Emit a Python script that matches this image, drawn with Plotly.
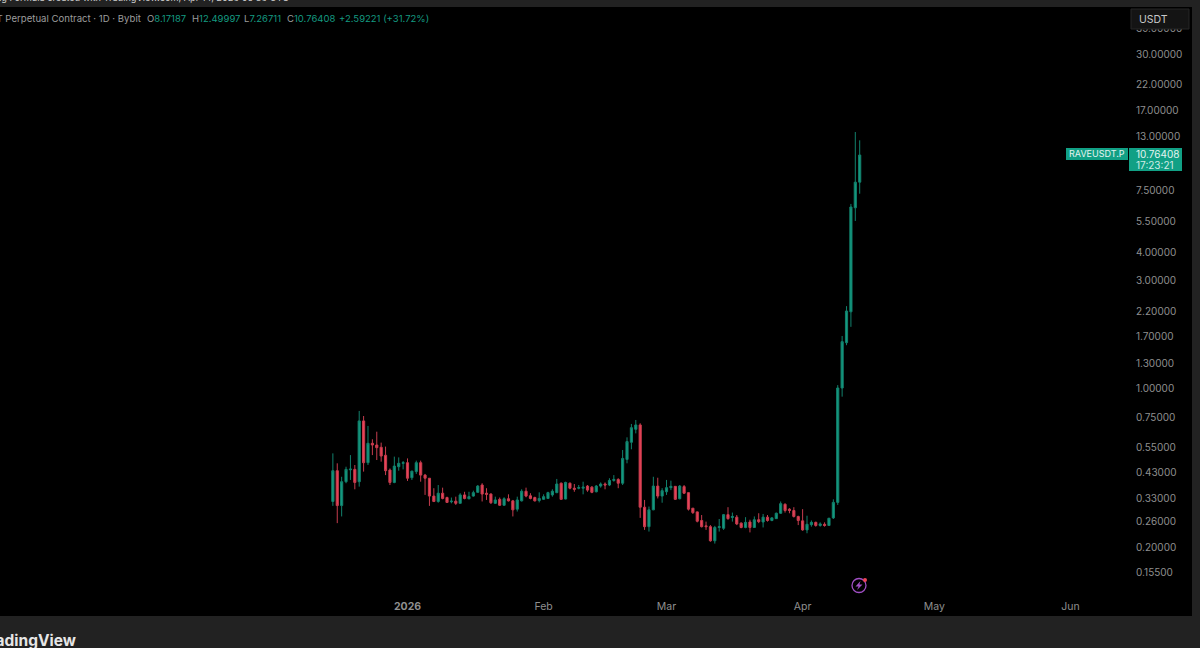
import pandas as pd
import plotly.graph_objects as go

# Daily RAVEUSDT.P candles, Dec 15 2025 to Apr 14 2026
first_day = "2025-12-15"
open_ = [.319,.436,.306,.390,.440,.442,.390,.723,.473,.576,.566,.553,.510,.439,.387,.454,.470,.473,.406,.432,
         .473,.417,.404,.337,.319,.347,.332,.318,.320,.313,.341,.328,.337,.350,.377,.347,.344,.313,.326,.307,
         .328,.321,.295,.321,.354,.338,.332,.322,.326,.329,.341,.349,.384,.327,.384,.365,.365,.365,.373,.369,
         .352,.373,.381,.377,.395,.399,.384,.489,.582,.664,.694,.301,.247,.293,.373,.337,.352,.367,.372,.328,
         .371,.349,.298,.287,.263,.249,.247,.214,.245,.243,.279,.271,.272,.256,.245,.259,.245,.265,.259,.272,
         .263,.268,.283,.310,.295,.291,.274,.262,.239,.252,.258,.250,.253,.250,.270,.316,1.01,1.60,2.19,6.3,8.17187]
high = [.520,.470,.410,.454,.511,.462,.800,.760,.687,.600,.648,.580,.557,.446,.503,.499,.481,.494,.436,.483,
        .483,.422,.404,.365,.377,.367,.335,.332,.335,.347,.352,.352,.356,.377,.384,.365,.347,.335,.332,.333,
        .343,.324,.335,.361,.367,.347,.335,.350,.343,.352,.361,.401,.387,.390,.387,.381,.377,.390,.377,.373,
        .377,.387,.387,.404,.417,.404,.538,.612,.701,.730,.706,.324,.303,.410,.406,.365,.397,.394,.373,.377,
        .377,.349,.298,.288,.278,.260,.251,.249,.267,.281,.301,.285,.278,.258,.272,.265,.274,.283,.281,.278,
        .272,.285,.319,.313,.298,.301,.276,.295,.276,.263,.260,.258,.258,.270,.326,1.04,1.713,2.32,6.55,13.6,12.49997]
low = [.305,.256,.274,.384,.397,.361,.371,.432,.462,.511,.486,.478,.417,.377,.384,.436,.442,.393,.397,.422,
       .390,.341,.305,.317,.315,.326,.315,.313,.308,.312,.326,.326,.335,.349,.319,.324,.311,.311,.305,.305,
       .319,.274,.288,.319,.333,.326,.319,.316,.324,.327,.335,.347,.325,.326,.361,.352,.361,.343,.352,.347,
       .350,.367,.361,.373,.390,.365,.377,.470,.542,.637,.270,.239,.235,.292,.329,.315,.341,.358,.324,.326,
       .344,.291,.281,.258,.245,.239,.212,.208,.235,.239,.265,.260,.251,.243,.243,.233,.244,.256,.245,.260,
       .261,.267,.281,.285,.283,.271,.251,.237,.231,.247,.247,.247,.247,.249,.267,.308,.925,1.56,1.88,5.51,7.26711]
close = [.436,.306,.390,.442,.443,.387,.723,.473,.576,.566,.551,.506,.436,.387,.457,.470,.473,.404,.434,.473,
         .417,.404,.337,.319,.347,.329,.316,.320,.313,.341,.329,.335,.349,.373,.344,.343,.315,.324,.307,.328,
         .321,.293,.324,.354,.337,.329,.321,.329,.335,.349,.354,.381,.326,.387,.365,.361,.367,.369,.358,.350,
         .373,.381,.377,.395,.399,.384,.494,.586,.675,.694,.301,.247,.293,.373,.337,.356,.367,.372,.326,.373,
         .347,.295,.285,.261,.247,.247,.214,.245,.247,.279,.268,.274,.254,.245,.258,.245,.265,.260,.272,.263,
         .270,.283,.312,.291,.291,.274,.263,.239,.253,.258,.250,.254,.250,.269,.316,1.01,1.617,2.208,6.35,8.17,10.76408]

price_ticks = [.155,.2,.26,.33,.43,.55,.75,1,1.3,1.7,2.2,3,4,5.5,7.5,13,17,22,30,39]
month_ticks = ["2026-01-01","2026-02-01","2026-03-01","2026-04-01","2026-05-01","2026-06-01"]
month_labels = ["<b>2026</b>","Feb","Mar","Apr","May","Jun"]

last_price = close[-1]
header_head = "RAVEUSDT Perpetual Contract · 1D · Bybit"
header_change = "+2.59221 (+31.72%)"
watermark_line = "Trading Formula created with TradingView.com, Apr 14, 2026 05:36 UTC"
countdown = "17:23:21"

UP, DOWN = "#149a80", "#ea4358"
UP_EDGE, DOWN_EDGE = "#12806c", "#c63c4e"
GREY, LABEL, BAR = "#9c9c9c", "#8f8f8f", "#222222"
W, H = 1200, 648
SANS = "Inter, Roboto, sans-serif"


def px(x):
    return x / W


def py(y):
    return 1 - y / H


def rect(x0, y0, x1, y1, fill, line=None):
    return dict(type="rect", xref="paper", yref="paper", layer="above",
                x0=px(x0), x1=px(x1), y0=py(y0), y1=py(y1), fillcolor=fill,
                line=dict(width=1 if line else 0, color=line or fill))


def note(x, y, text, size, color, anchor="left", family=SANS):
    return dict(xref="paper", yref="paper", x=px(x), y=py(y), text=text, showarrow=False,
                xanchor=anchor, yanchor="middle", align=anchor,
                font=dict(size=size, color=color, family=family))


def path_shape(points, fill, line_color, width=0):
    d = "M" + " L".join(f"{px(a):.5f},{py(b):.5f}" for a, b in points) + " Z"
    return dict(type="path", xref="paper", yref="paper", layer="above", path=d,
                fillcolor=fill, line=dict(color=line_color, width=width))


def green(s):
    return f'<span style="color:{UP}">{s}</span>'


days = pd.date_range(first_day, periods=len(close), freq="D")

fig = go.Figure(go.Candlestick(
    x=days, open=open_, high=high, low=low, close=close,
    increasing=dict(line=dict(color=UP_EDGE, width=1), fillcolor=UP),
    decreasing=dict(line=dict(color=DOWN_EDGE, width=1), fillcolor=DOWN),
    whiskerwidth=0, hoverinfo="skip", showlegend=False,
))

shapes = [
    rect(0, 0, 1200, 7, BAR),
    rect(0, 616, 1200, 648, BAR),
    rect(1192, 0, 1200, 648, BAR),
    rect(1131, 9, 1189, 29, "#141414", "#262626"),
    rect(1066, 148, 1128, 160, "#11a085"),
    rect(1129, 148, 1182, 171, "#11a085"),
    dict(type="circle", xref="paper", yref="paper", layer="above",
         x0=px(852), x1=px(866), y0=py(592.5), y1=py(578.5),
         line=dict(color="#a04fc4", width=1.3)),
    path_shape([(860.5, 581), (855.5, 586.5), (858.6, 586.5), (857, 590), (862.5, 584.5), (859.4, 584.5)],
               "#a04fc4", "#a04fc4"),
    dict(type="circle", xref="paper", yref="paper", layer="above",
         x0=px(863), x1=px(867), y0=py(582), y1=py(578),
         fillcolor="#ee4455", line=dict(width=0)),
]

annotations = [
    note(291, -2, watermark_line, 9.2, "#cfcfcf", "right"),
    note(143, 18, header_head, 9.6, GREY, "right"),
    note(145, 18, f"O{green('8.17187')}", 9.5, GREY),
    note(190, 18, f"H{green('12.49997')}", 9.5, GREY),
    note(242, 18, f"L{green('7.26711')}", 9.5, GREY),
    note(285, 18, f"C{green(f'{last_price:.5f}')}", 9.5, GREY),
    note(337, 18, green(header_change), 9.5, GREY),
    note(78, 640, "<b>TradingView</b>", 15.5, "#e6e6e6", "right"),
    note(1137, 19, "USDT", 10.5, "#c8c8c8"),
    note(1067, 154, "RAVEUSDT.P", 9, "#e4f4f0"),
    note(1134, 154, f"{last_price:.5f}", 10, "#e4f4f0"),
    note(1134, 165, countdown, 10, "#d0ebe5"),
]

fig.update_layout(
    width=W, height=H, margin=dict(l=0, r=0, t=0, b=0),
    paper_bgcolor="#000000", plot_bgcolor="#000000",
    shapes=shapes, annotations=annotations, showlegend=False, hovermode=False,
    xaxis=dict(domain=[0, 1135 / W], type="date", range=["2025-09-30 04:19", "2026-06-15 17:00"],
               tickmode="array", tickvals=month_ticks, ticktext=month_labels,
               ticks="", showgrid=False, zeroline=False, showline=False,
               rangeslider=dict(visible=False), fixedrange=True,
               tickfont=dict(size=10.5, color=LABEL, family=SANS)),
    yaxis=dict(domain=[1 - 598 / H, 1 - 7 / H], type="log", side="right", range=[-0.922, 1.685],
               tickmode="array", tickvals=price_ticks, tickformat=".5f",
               ticks="", showgrid=False, zeroline=False, showline=False, fixedrange=True,
               tickfont=dict(size=10, color=LABEL, family=SANS)),
)

fig.write_html("out.html")
